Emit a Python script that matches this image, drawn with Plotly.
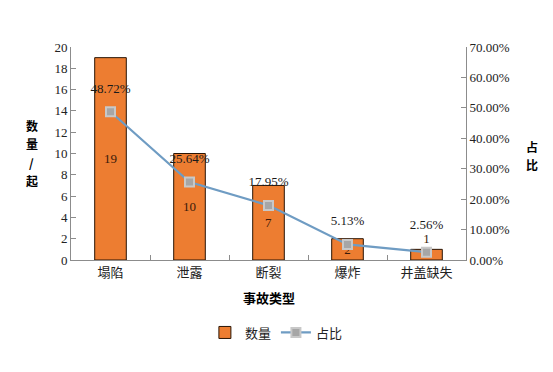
import plotly.graph_objects as go

categories = ["塌陷", "泄露", "断裂", "爆炸", "井盖缺失"]
counts = [19, 10, 7, 2, 1]
shares = [0.4872, 0.2564, 0.1795, 0.0513, 0.0256]
count_label_pos = ["inside", "inside", "inside", "inside", "outside"]

serif = "Liberation Serif, Times New Roman, serif"
cjk = "Noto Sans CJK SC, sans-serif"

fig = go.Figure()
fig.add_trace(go.Bar(
    x=categories, y=counts, name="数量",
    marker=dict(color="#ED7D31", line=dict(color="#2a1505", width=1)),
    width=0.4,
    text=[str(v) for v in counts], textposition=count_label_pos,
    insidetextanchor="middle", constraintext="none",
    textfont=dict(family=serif, size=13, color="#3a1a0a"),
    cliponaxis=False,
))
fig.add_trace(go.Scatter(
    x=categories, y=shares, name="占比", yaxis="y2",
    mode="lines+markers",
    line=dict(color="#6F9CC3", width=2.2),
    marker=dict(symbol="square", size=9, color="#A6A6A6", line=dict(color="#C8C8C8", width=2)),
    cliponaxis=False,
))
# percentage labels (invisible larger markers give the label offset)
fig.add_trace(go.Scatter(
    x=categories, y=shares, yaxis="y2", mode="markers+text", showlegend=False,
    hoverinfo="skip",
    marker=dict(size=[24, 24, 24, 24, 30], color="rgba(0,0,0,0)", opacity=0,
                line=dict(width=0, color="rgba(0,0,0,0)")),
    text=[f"{v*100:.2f}%" for v in shares], textposition="top center",
    textfont=dict(family=serif, size=13, color="#1a1a1a"),
    cliponaxis=False,
))

axis_line = "#8C8C8C"
fig.update_layout(
    width=545, height=364,
    margin=dict(l=63, r=87, t=39, b=112),
    plot_bgcolor="white", paper_bgcolor="white",
    showlegend=True,
    legend=dict(orientation="h", x=0.52, xanchor="center", y=-0.27, yanchor="top",
                itemwidth=30, tracegroupgap=0,
                font=dict(family=cjk, size=13, color="#222")),
    xaxis=dict(showline=True, linecolor=axis_line, linewidth=1,
               ticks="inside", ticklen=5, tickcolor=axis_line, tickson="boundaries",
               tickfont=dict(family=cjk, size=13, color="#222"), showgrid=False),
    yaxis=dict(range=[0, 20], dtick=2, showline=True, linecolor=axis_line, linewidth=1,
               ticks="inside", ticklen=5, tickcolor=axis_line, showgrid=False, zeroline=False,
               tickfont=dict(family=serif, size=13, color="#222")),
    yaxis2=dict(range=[0, 0.7], dtick=0.1, tickformat=".2%", overlaying="y", side="right",
                showline=True, linecolor=axis_line, linewidth=1,
                ticks="inside", ticklen=5, tickcolor=axis_line, showgrid=False, zeroline=False,
                tickfont=dict(family=serif, size=13, color="#222")),
    bargap=0.6,
)
left_title = ["数", "量", "/", "起"]
left_y = [0.63, 0.545, 0.46, 0.375]
for ch, yy in zip(left_title, left_y):
    fig.add_annotation(text=f"<b>{ch}</b>", xref="paper", yref="paper", x=-0.1, y=yy,
                       showarrow=False, font=dict(family=cjk, size=12, color="#000"),
                       xanchor="center", yanchor="middle")
for ch, yy in zip(["占", "比"], [0.535, 0.45]):
    fig.add_annotation(text=f"<b>{ch}</b>", xref="paper", yref="paper", x=1.167, y=yy,
                       showarrow=False, font=dict(family=cjk, size=12, color="#000"),
                       xanchor="center", yanchor="middle")
fig.add_annotation(text="<b>事故类型</b>", xref="paper", yref="paper", x=0.5, y=-0.175,
                   showarrow=False, font=dict(family=cjk, size=13, color="#000"),
                   xanchor="center", yanchor="middle")
fig.write_html("out.html")
